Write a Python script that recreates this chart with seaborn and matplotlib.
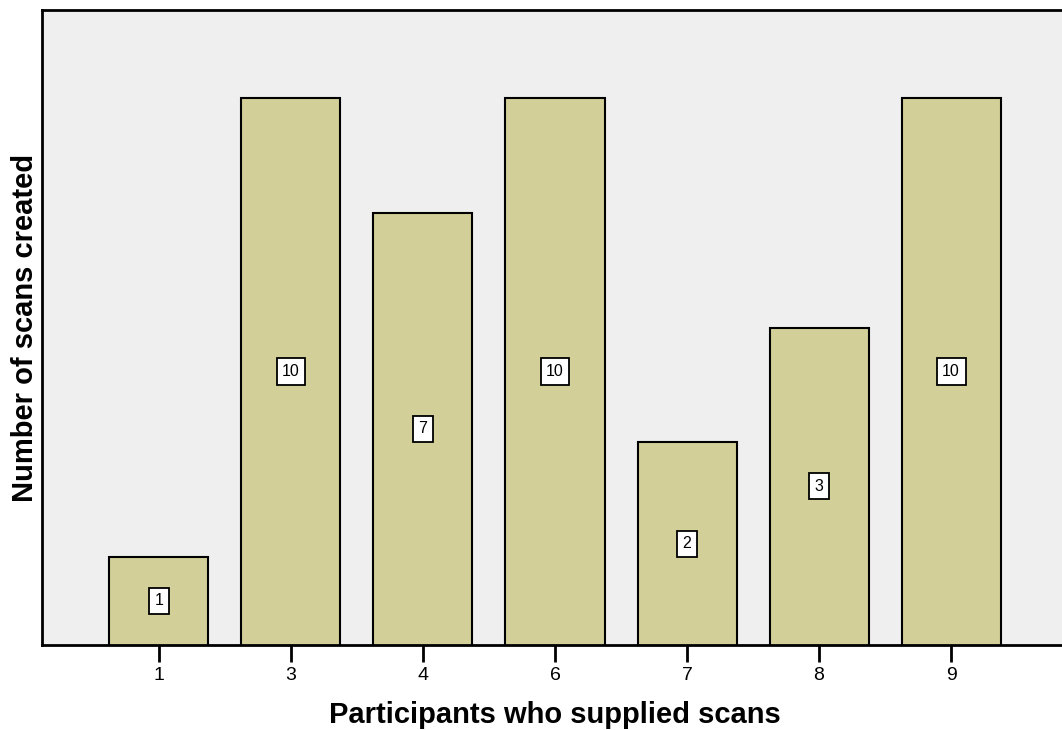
import pandas as pd
import matplotlib
matplotlib.use("Agg")
import matplotlib.pyplot as plt
import seaborn as sns

# data
participants = ["1", "3", "4", "6", "7", "8", "9"]
scans = [1, 10, 7, 10, 2, 3, 10]

# SPSS drew the bars by category order of the count, not by its size
levels = sorted(set(scans))
bar_level = [levels.index(v) + 1 for v in scans]

df = pd.DataFrame({"Participant": participants, "Scans": scans, "Level": bar_level})

sns.set_style("white")
plt.rcParams["font.family"] = ["Liberation Sans", "DejaVu Sans"]
plt.rcParams["text.color"] = "black"
plt.rcParams["axes.labelcolor"] = "black"
plt.rcParams["xtick.color"] = "black"

fig = plt.figure(figsize=(10.62, 7.30), dpi=100)
ax = fig.add_axes([42 / 1062, 85 / 730, 1026 / 1062, 635 / 730])
ax.set_facecolor("#EFEFEF")

sns.barplot(data=df, x="Participant", y="Level", color="#D3CF99", saturation=1,
            width=0.75, edgecolor="black", linewidth=1.5, ax=ax)

ax.set_xlim(-0.886, 6.886)
ax.set_ylim(0.233, 5.767)
ax.set_yticks([])

# value boxes in the middle of each bar
for i, (h, v) in enumerate(zip(df["Level"], df["Scans"])):
    ax.text(i, (0.233 + h) / 2, str(v), ha="center", va="center", fontsize=11.5,
            bbox=dict(boxstyle="square,pad=0.35", fc="white", ec="black", lw=1.3))

for side in ["left", "top", "bottom"]:
    ax.spines[side].set_color("black")
    ax.spines[side].set_linewidth(2)
ax.spines["right"].set_visible(False)

ax.tick_params(axis="x", length=12, width=2, direction="out", labelsize=14, pad=4,
               bottom=True)
ax.set_xlabel("Participants who supplied scans", fontsize=21, fontweight="bold", labelpad=12)
ax.set_ylabel("Number of scans created", fontsize=21, fontweight="bold", labelpad=2)

fig.savefig("out.png", dpi=100)
